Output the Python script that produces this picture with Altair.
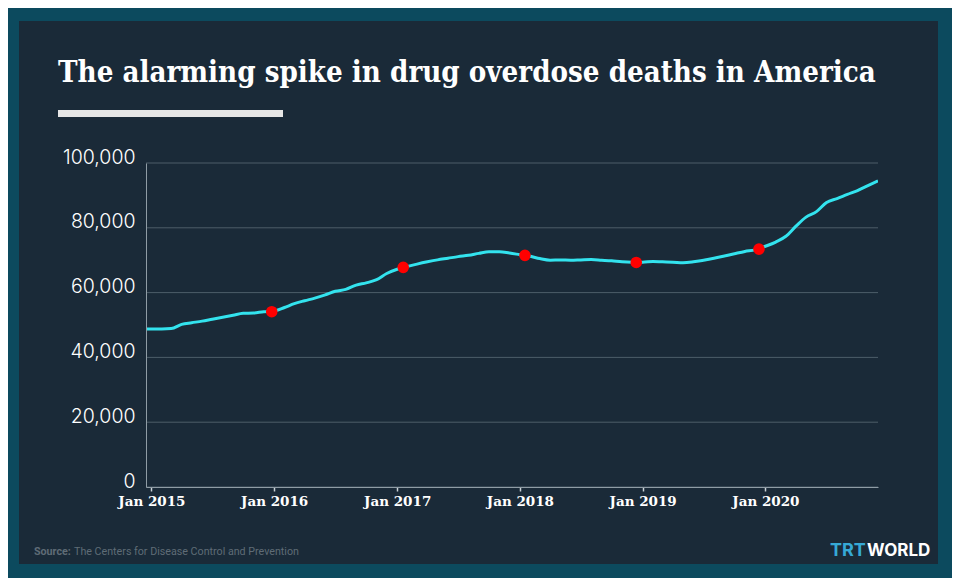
import altair as alt
import pandas as pd

TITLE = "The alarming spike in drug overdose deaths in America"
SOURCE_LABEL = "Source:"
SOURCE_TEXT = "The Centers for Disease Control and Prevention"
LOGO_A = "TRT"
LOGO_B = "WORLD"

# monthly series, Dec 2014 .. Dec 2020
MONTHS = [
    "2014-12-01",
    "2015-01-01", "2015-02-01", "2015-03-01", "2015-04-01", "2015-05-01", "2015-06-01",
    "2015-07-01", "2015-08-01", "2015-09-01", "2015-10-01", "2015-11-01", "2015-12-01",
    "2016-01-01", "2016-02-01", "2016-03-01", "2016-04-01", "2016-05-01", "2016-06-01",
    "2016-07-01", "2016-08-01", "2016-09-01", "2016-10-01", "2016-11-01", "2016-12-01",
    "2017-01-01", "2017-02-01", "2017-03-01", "2017-04-01", "2017-05-01", "2017-06-01",
    "2017-07-01", "2017-08-01", "2017-09-01", "2017-10-01", "2017-11-01", "2017-12-01",
    "2018-01-01", "2018-02-01", "2018-03-01", "2018-04-01", "2018-05-01", "2018-06-01",
    "2018-07-01", "2018-08-01", "2018-09-01", "2018-10-01", "2018-11-01", "2018-12-01",
    "2019-01-01", "2019-02-01", "2019-03-01", "2019-04-01", "2019-05-01", "2019-06-01",
    "2019-07-01", "2019-08-01", "2019-09-01", "2019-10-01", "2019-11-01", "2019-12-01",
    "2020-01-01", "2020-02-01", "2020-03-01", "2020-04-01", "2020-05-01", "2020-06-01",
    "2020-07-01", "2020-08-01", "2020-09-01", "2020-10-01", "2020-11-01", "2020-12-01",
]
DEATHS = [
    48800,
    48800, 48800, 48900, 50200, 50700, 51200, 51800, 52400, 53000, 53600, 53700, 54100,
    54300, 55400, 56600, 57500, 58300, 59300, 60400, 61000, 62300, 63000, 64000, 65900,
    67200, 68100, 68800, 69500, 70100, 70600, 71100, 71500, 72100, 72600, 72600, 72200,
    71700, 71200, 70500, 70000, 70100, 70000, 70100, 70200, 70000, 69800, 69500, 69400,
    69400, 69600, 69500, 69400, 69200, 69500, 70000, 70600, 71300, 72000, 72700, 73200,
    74300, 75600, 77300, 80500, 83300, 85000, 87800, 89000, 90300, 91500, 93000, 94500,
]

DOT_DATES = ["2015-12-25", "2017-01-19", "2018-01-16", "2018-12-13", "2019-12-13"]
DOT_VALUES = [54100, 67800, 71500, 69300, 73400]

Y_TICKS = [0, 20000, 40000, 60000, 80000, 100000]

BG = "#0c4a5e"
PANEL = "#1a2a38"
CYAN = "#33e3ee"
GRID = "#4d5d69"
AXIS = "#8f9ca5"

line_df = pd.DataFrame({"date": MONTHS, "deaths": DEATHS})
dots_df = pd.DataFrame({"date": DOT_DATES, "deaths": DOT_VALUES})
grid_df = pd.DataFrame({"deaths": Y_TICKS})
one = pd.DataFrame({"t": [""]})

xscale = alt.Scale(
    type="utc",
    domain=[alt.DateTime(year=2014, month=12, date=16, utc=True),
            alt.DateTime(year=2020, month=12, date=1, utc=True)],
)
yscale = alt.Scale(domain=[0, 100000], nice=False, zero=True)

x_axis = alt.Axis(
    title=None, format="%b %Y", tickCount={"interval": "year", "step": 1},
    grid=False, domainColor=AXIS, domainWidth=1, tickColor="#c9d1d6", tickSize=4,
    tickWidth=1.5, labelColor="#ffffff", labelFont="DejaVu Serif", labelFontSize=13.5,
    labelFontWeight="bold", labelPadding=3, labelBaseline="top", zindex=2,
)
y_axis = alt.Axis(
    title=None, values=Y_TICKS, format=",d", grid=False, ticks=False,
    domainColor=AXIS, domainWidth=1, labelColor="#ffffff", labelFont="Inter",
    labelFontSize=19.5, labelFontWeight=300, labelPadding=11,
    labelBaseline="alphabetic", zindex=2,
)

panel = alt.Chart(one).mark_rect(color=PANEL, clip=False).encode(
    x=alt.value(-127), x2=alt.value(792), y=alt.value(-142), y2=alt.value(401)
)
bar = alt.Chart(one).mark_rect(color="#e6e6e6", clip=False).encode(
    x=alt.value(-88), x2=alt.value(137), y=alt.value(-53), y2=alt.value(-46)
)
title = alt.Chart(pd.DataFrame({"t": [TITLE]})).mark_text(
    align="left", baseline="alphabetic", font="DejaVu Serif Condensed",
    fontSize=29.2, fontWeight="bold", color="#ffffff", clip=False,
).encode(text="t:N", x=alt.value(-88), y=alt.value(-81))

src_a = alt.Chart(pd.DataFrame({"t": [SOURCE_LABEL]})).mark_text(
    align="left", baseline="alphabetic", font="Roboto",
    fontSize=10.7, fontWeight="bold", color="#5f6c76",
).encode(text="t:N", x=alt.value(-112), y=alt.value(392))
src_b = alt.Chart(pd.DataFrame({"t": [SOURCE_TEXT]})).mark_text(
    align="left", baseline="alphabetic", font="Roboto",
    fontSize=10.7, color="#5f6c76",
).encode(text="t:N", x=alt.value(-72), y=alt.value(392))

logo_a = alt.Chart(pd.DataFrame({"t": [LOGO_A]})).mark_text(
    align="left", baseline="alphabetic", font="Inter", fontSize=18,
    fontWeight="bold", color="#36a9d6",
).encode(text="t:N", x=alt.value(684), y=alt.value(393))
logo_b = alt.Chart(pd.DataFrame({"t": [LOGO_B]})).mark_text(
    align="left", baseline="alphabetic", font="Inter", fontSize=17,
    fontWeight="bold", color="#ffffff",
).encode(text="t:N", x=alt.value(721), y=alt.value(393))

grid = alt.Chart(grid_df).mark_rule(color=GRID, strokeWidth=1).encode(
    y=alt.Y("deaths:Q", scale=yscale, axis=y_axis)
)

minor = alt.Chart(line_df).mark_rule(color="#9aa6ae", strokeWidth=1, clip=True).encode(
    x=alt.X("date:T", scale=xscale, axis=x_axis), y=alt.value(324), y2=alt.value(326.5)
)

line = alt.Chart(line_df).mark_line(
    color=CYAN, strokeWidth=3, interpolate="monotone", clip=True
).encode(
    x=alt.X("date:T", scale=xscale, axis=x_axis),
    y=alt.Y("deaths:Q", scale=yscale, axis=y_axis),
)

dots = alt.Chart(dots_df).mark_circle(color="#ff0000", opacity=1, size=135).encode(
    x=alt.X("date:T", scale=xscale, axis=x_axis),
    y=alt.Y("deaths:Q", scale=yscale, axis=y_axis),
)

chart = alt.layer(
    panel, bar, title, src_a, src_b, logo_a, logo_b, grid, minor, line, dots
).properties(
    width=732, height=324,
    padding={"left": 138, "top": 155, "right": 74, "bottom": 91},
    autosize=alt.AutoSizeParams(type="none"),
    background=BG,
).configure_view(stroke=None)

chart.save("out.html", embed_options={"renderer": "svg", "actions": False})
